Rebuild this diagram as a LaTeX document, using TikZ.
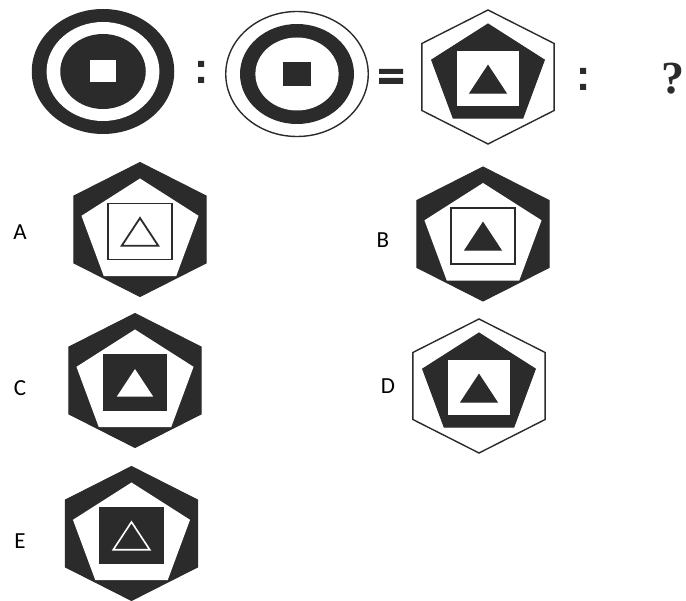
\documentclass[tikz,border=0pt]{standalone}
\usepackage{fontspec}
\setmainfont{Carlito}
\newfontfamily\qfont{Liberation Serif}
\usepackage{tikz}
\usetikzlibrary{positioning}
\definecolor{ink}{gray}{0.17}

\begin{document}
\begin{tikzpicture}[x=1pt,y=-1pt]
	\tikzstyle{every node}=[inner sep=0pt,font=\fontsize{23}{26}\selectfont]
	\tikzstyle{darkfill}=[fill=ink,draw=ink,line width=1pt]
	\tikzstyle{whitefill}=[fill=white]
	\tikzstyle{thinline}=[fill=white,draw=ink,line width=1.4pt]
	\tikzstyle{whitebox}=[fill=white,draw=ink,line width=1pt]
	\tikzstyle{framebox}=[fill=white,draw=ink,line width=1.3pt]
	\tikzstyle{hollow}=[fill=white,draw=ink,line width=1.8pt]
	\tikzstyle{whiteline}=[draw=white,line width=1.6pt]

	\useasboundingbox (0,0) rectangle (686,601);

	\begin{scope}[shift={(103,71.5)},xscale=1.14]
		\fill[ink] (0,0) circle (62.5);
		\fill[white] (0,0) circle (49.5);
		\fill[ink] (0,0) circle (37.5);
		\fill[white] (-11,-11) rectangle (11,11);
	\end{scope}
	\begin{scope}[shift={(297,74)},xscale=1.14]
		\draw[thinline] (0,0) circle (62.5);
		\fill[ink] (0,0) circle (50);
		\fill[white] (0,0) circle (36.5);
		\fill[ink] (-12.5,-12) rectangle (12.5,12);
	\end{scope}

	\fill[ink] (198,61) rectangle (204,67) (198,77) rectangle (204,83);
	\fill[ink] (379,69) rectangle (403,74) (379,78) rectangle (403,84);
	\fill[ink] (580,68) rectangle (586,74) (580,84) rectangle (586,90);

	\foreach \cx/\cy/\hx/\pr/\po/\pe/\sq/\tr in {
		488/77/thinline/52/-1/darkfill/whitebox/darkfill,
		140/229.5/darkfill/54/3/whitefill/framebox/hollow,
		483/234/darkfill/54/3/whitefill/framebox/darkfill,
		135/380.5/darkfill/54/3/whitefill/darkfill/whitefill,
		479/386/thinline/52/-1/darkfill/whitebox/darkfill,
		131.5/533.5/darkfill/54/3/whitefill/darkfill/whiteline}{
		\begin{scope}[shift={(\cx,\cy)},xscale=1.14]
			\path[\hx] (90:67) -- (150:67) -- (210:67) -- (270:67) -- (330:67) -- (30:67) -- cycle;
			\path[\pe] (0,\po) +(-90:\pr) -- +(-18:\pr) -- +(54:\pr) -- +(126:\pr) -- +(198:\pr) -- cycle;
			\path[\sq] (-28,-26) rectangle (28,30);
			\path[\tr] (0,7) +(-90:18.5) -- +(30:18.5) -- +(150:18.5) -- cycle;
		\end{scope}
	}

	\node (labA) at (20,232) {A};
	\node (labB) at (383,240) {B};
	\node (labC) at (20,388) {C};
	\node (labD) at (388,386) {D};
	\node (labE) at (20,541) {E};
	\node (qmark) [anchor=east,text=ink,font=\qfont\bfseries\fontsize{46}{50}\selectfont] at (685,79) {?};

\end{tikzpicture}
\end{document}
